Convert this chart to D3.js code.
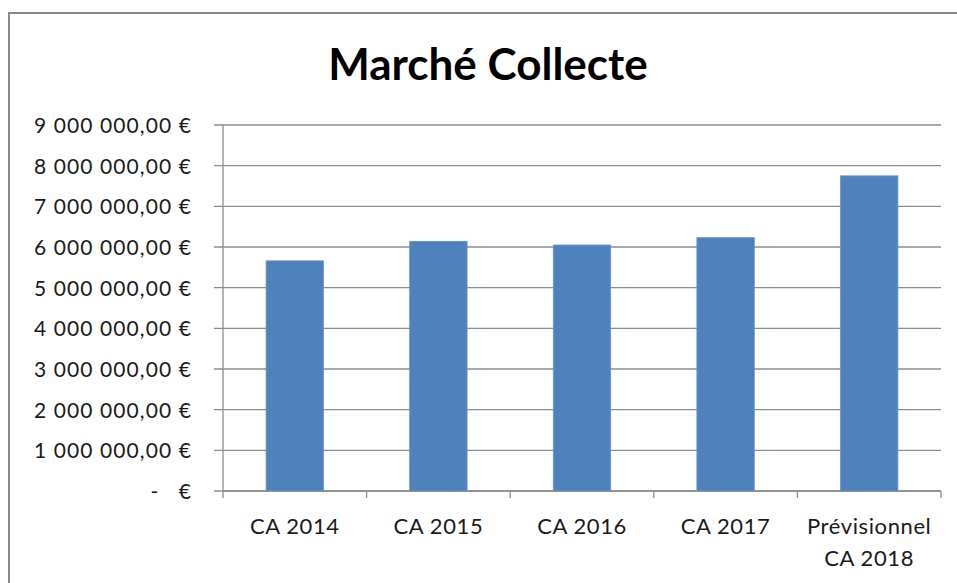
<!DOCTYPE html>
<html>
<head>
<meta charset="utf-8">
<script src="https://cdn.jsdelivr.net/npm/d3@7"></script>
<style>
  body { margin: 0; background: #fff; }
  svg { display: block; }
  text { font-family: Lato, "Open Sans", sans-serif; }
</style>
</head>
<body>
<svg id="chart" width="957" height="583"></svg>
<script>
// data
const categories = ['CA 2014', 'CA 2015', 'CA 2016', 'CA 2017', 'Prévisionnel\nCA 2018'];
const values = [5660000, 6140000, 6050000, 6230000, 7750000];
const yTicks = [0, 1000000, 2000000, 3000000, 4000000, 5000000, 6000000, 7000000, 8000000, 9000000];
const title = 'Marché Collecte';

const svg = d3.select('#chart');
const margin = {top: 125, right: 16, bottom: 92, left: 223};
const width = +svg.attr('width');
const height = +svg.attr('height');
const innerWidth = width - margin.left - margin.right;
const innerHeight = height - margin.top - margin.bottom;

// outer frame (only top and left edges show in the picture)
svg.append('path')
    .attr('d', `M9,${height} V13 H${width}`)
    .attr('fill', 'none')
    .attr('stroke', '#888')
    .attr('stroke-width', 2);

svg.append('text')
    .attr('x', 488)
    .attr('y', 80)
    .attr('text-anchor', 'middle')
    .style('font-size', '44px')
    .style('font-weight', 'bold')
    .attr('fill', '#000')
    .text(title);

const g = svg.append('g')
    .attr('transform', `translate(${margin.left},${margin.top})`);

const xScale = d3.scaleBand()
    .domain(categories)
    .range([0, innerWidth]);

const yScale = d3.scaleLinear()
    .domain([0, 9000000])
    .range([innerHeight, 0]);

// euro format like "9 000 000,00 €"
const frFormat = d3.formatLocale({decimal: ',', thousands: ' ', grouping: [3], currency: ['', ' €']});
const fmt = v => v === 0 ? '-   €' : frFormat.format('$,.2f')(v);

// gridlines
g.append('g')
  .selectAll('line')
  .data(yTicks)
  .enter().append('line')
    .attr('x1', -9)
    .attr('x2', innerWidth)
    .attr('y1', d => yScale(d))
    .attr('y2', d => yScale(d))
    .attr('stroke', '#8c8c8c')
    .attr('stroke-width', 1.3);

// y labels
svg.append('g')
  .selectAll('text')
  .data(yTicks)
  .enter().append('text')
    .attr('x', margin.left - 31)
    .attr('y', d => margin.top + yScale(d) + 8)
    .attr('text-anchor', 'end')
    .attr('xml:space', 'preserve')
    .style('white-space', 'pre')
    .style('font-size', '21px')
    .style('letter-spacing', '1.1px')
    .attr('fill', '#1a1a1a')
    .text(d => fmt(d));

// y axis line
g.append('line')
    .attr('x1', 0).attr('x2', 0)
    .attr('y1', 0).attr('y2', innerHeight)
    .attr('stroke', '#8c8c8c')
    .attr('stroke-width', 1.3);

// x axis with ticks on category boundaries
const xAxisG = g.append('g')
    .attr('transform', `translate(0,${innerHeight})`);
xAxisG.append('line')
    .attr('x1', 0).attr('x2', innerWidth)
    .attr('stroke', '#8c8c8c').attr('stroke-width', 1.3);
xAxisG.selectAll('.tick')
  .data(categories.concat([null]))
  .enter().append('line')
    .attr('x1', (d, i) => i * xScale.step())
    .attr('x2', (d, i) => i * xScale.step())
    .attr('y1', 0).attr('y2', 7)
    .attr('stroke', '#8c8c8c').attr('stroke-width', 1.3);

// bars
const barWidth = xScale.bandwidth() * 0.4;
g.selectAll('.bar')
  .data(values)
  .enter().append('rect')
    .attr('class', 'bar')
    .attr('x', (d, i) => xScale(categories[i]) + (xScale.bandwidth() - barWidth) / 2)
    .attr('width', barWidth)
    .attr('y', d => yScale(d))
    .attr('height', d => innerHeight - yScale(d))
    .attr('fill', '#4f81bd')
    .attr('stroke', '#6c97cc')
    .attr('stroke-width', 0.8);

// x labels
const xLabels = xAxisG.selectAll('.xlabel')
  .data(categories)
  .enter().append('text')
    .attr('class', 'xlabel')
    .attr('x', d => xScale(d) + xScale.bandwidth() / 2)
    .attr('y', 43)
    .attr('text-anchor', 'middle')
    .style('font-size', '22px')
    .style('letter-spacing', '0.6px')
    .attr('fill', '#1a1a1a');
xLabels.selectAll('tspan')
  .data(d => d.split('\n'))
  .enter().append('tspan')
    .attr('x', function () { return d3.select(this.parentNode).attr('x'); })
    .attr('dy', (d, i) => i === 0 ? 0 : 32)
    .text(d => d);
</script>
</body>
</html>
